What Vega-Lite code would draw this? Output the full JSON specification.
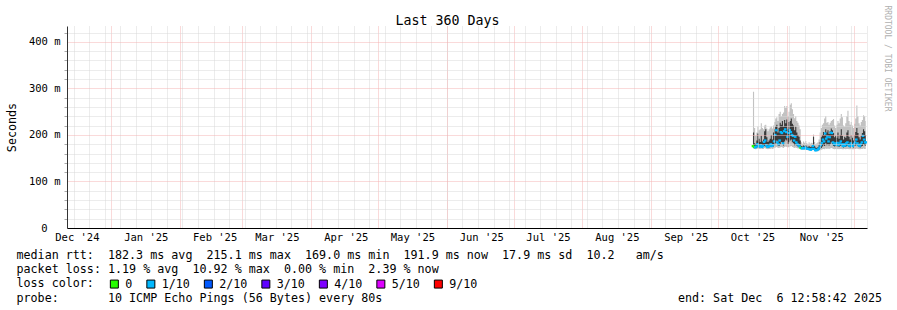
{
  "$schema": "https://vega.github.io/schema/vega-lite/v6.json",
  "width": 800,
  "height": 202,
  "autosize": {"type": "none"},
  "padding": {"left": 67, "top": 26, "right": 30, "bottom": 82},
  "background": "#ffffff",
  "view": {"stroke": null},
  "title": {"text": "Last 360 Days", "font": "DejaVu Sans Mono", "fontSize": 13.3, "fontWeight": "normal", "color": "#000000", "anchor": "middle", "dx": -19.5, "baseline": "alphabetic", "offset": -33},
  "data": {"values": [
    {"t": "2025-10-16T18:00:00Z", "mn": 171, "lo": 174, "hi": 205, "mx": 293, "md": 176, "loss": "0"},
    {"t": "2025-10-17T06:00:00Z", "mn": 170, "lo": 173, "hi": 182, "mx": 215, "md": 174, "loss": "0"},
    {"t": "2025-10-17T18:00:00Z", "mn": 169, "lo": 172, "hi": 180, "mx": 198, "md": 173, "loss": "1/10"},
    {"t": "2025-10-18T06:00:00Z", "mn": 170, "lo": 173, "hi": 188, "mx": 205, "md": 175, "loss": "1/10"},
    {"t": "2025-10-18T18:00:00Z", "mn": 171, "lo": 175, "hi": 203, "mx": 218, "md": 180, "loss": "1/10"},
    {"t": "2025-10-19T06:00:00Z", "mn": 170, "lo": 173, "hi": 192, "mx": 210, "md": 176, "loss": "1/10"},
    {"t": "2025-10-19T18:00:00Z", "mn": 170, "lo": 174, "hi": 185, "mx": 212, "md": 175, "loss": "1/10"},
    {"t": "2025-10-20T06:00:00Z", "mn": 171, "lo": 175, "hi": 198, "mx": 225, "md": 178, "loss": "1/10"},
    {"t": "2025-10-20T18:00:00Z", "mn": 170, "lo": 173, "hi": 186, "mx": 215, "md": 174, "loss": "1/10"},
    {"t": "2025-10-21T06:00:00Z", "mn": 170, "lo": 174, "hi": 190, "mx": 212, "md": 176, "loss": "1/10"},
    {"t": "2025-10-21T18:00:00Z", "mn": 172, "lo": 176, "hi": 208, "mx": 220, "md": 185, "loss": "1/10"},
    {"t": "2025-10-22T06:00:00Z", "mn": 171, "lo": 175, "hi": 212, "mx": 222, "md": 188, "loss": "1/10"},
    {"t": "2025-10-22T18:00:00Z", "mn": 170, "lo": 174, "hi": 195, "mx": 214, "md": 178, "loss": "1/10"},
    {"t": "2025-10-23T06:00:00Z", "mn": 169, "lo": 172, "hi": 185, "mx": 208, "md": 174, "loss": "1/10"},
    {"t": "2025-10-23T18:00:00Z", "mn": 170, "lo": 173, "hi": 188, "mx": 212, "md": 175, "loss": "1/10"},
    {"t": "2025-10-24T06:00:00Z", "mn": 170, "lo": 174, "hi": 192, "mx": 216, "md": 176, "loss": "1/10"},
    {"t": "2025-10-24T18:00:00Z", "mn": 171, "lo": 176, "hi": 200, "mx": 218, "md": 180, "loss": "1/10"},
    {"t": "2025-10-25T06:00:00Z", "mn": 170, "lo": 174, "hi": 190, "mx": 214, "md": 176, "loss": "1/10"},
    {"t": "2025-10-25T18:00:00Z", "mn": 171, "lo": 175, "hi": 205, "mx": 220, "md": 178, "loss": "1/10"},
    {"t": "2025-10-26T06:00:00Z", "mn": 172, "lo": 178, "hi": 212, "mx": 228, "md": 186, "loss": "1/10"},
    {"t": "2025-10-26T18:00:00Z", "mn": 173, "lo": 182, "hi": 218, "mx": 235, "md": 200, "loss": "1/10"},
    {"t": "2025-10-27T06:00:00Z", "mn": 174, "lo": 188, "hi": 222, "mx": 238, "md": 210, "loss": "1/10"},
    {"t": "2025-10-27T18:00:00Z", "mn": 172, "lo": 178, "hi": 205, "mx": 230, "md": 184, "loss": "1/10"},
    {"t": "2025-10-28T06:00:00Z", "mn": 172, "lo": 176, "hi": 215, "mx": 245, "md": 180, "loss": "1/10"},
    {"t": "2025-10-28T18:00:00Z", "mn": 173, "lo": 180, "hi": 226, "mx": 250, "md": 188, "loss": "1/10"},
    {"t": "2025-10-29T06:00:00Z", "mn": 174, "lo": 185, "hi": 222, "mx": 240, "md": 206, "loss": "1/10"},
    {"t": "2025-10-29T18:00:00Z", "mn": 173, "lo": 182, "hi": 230, "mx": 245, "md": 204, "loss": "1/10"},
    {"t": "2025-10-30T06:00:00Z", "mn": 172, "lo": 177, "hi": 218, "mx": 248, "md": 182, "loss": "1/10"},
    {"t": "2025-10-30T18:00:00Z", "mn": 174, "lo": 186, "hi": 232, "mx": 262, "md": 208, "loss": "1/10"},
    {"t": "2025-10-31T06:00:00Z", "mn": 175, "lo": 190, "hi": 225, "mx": 258, "md": 212, "loss": "1/10"},
    {"t": "2025-10-31T18:00:00Z", "mn": 174, "lo": 188, "hi": 233, "mx": 262, "md": 206, "loss": "1/10"},
    {"t": "2025-11-01T06:00:00Z", "mn": 173, "lo": 180, "hi": 212, "mx": 240, "md": 196, "loss": "1/10"},
    {"t": "2025-11-01T18:00:00Z", "mn": 174, "lo": 184, "hi": 228, "mx": 250, "md": 204, "loss": "1/10"},
    {"t": "2025-11-02T06:00:00Z", "mn": 175, "lo": 188, "hi": 230, "mx": 265, "md": 210, "loss": "1/10"},
    {"t": "2025-11-02T18:00:00Z", "mn": 176, "lo": 190, "hi": 235, "mx": 268, "md": 206, "loss": "1/10"},
    {"t": "2025-11-03T06:00:00Z", "mn": 174, "lo": 184, "hi": 224, "mx": 255, "md": 200, "loss": "1/10"},
    {"t": "2025-11-03T18:00:00Z", "mn": 173, "lo": 182, "hi": 220, "mx": 245, "md": 198, "loss": "1/10"},
    {"t": "2025-11-04T06:00:00Z", "mn": 172, "lo": 178, "hi": 210, "mx": 236, "md": 188, "loss": "1/10"},
    {"t": "2025-11-04T18:00:00Z", "mn": 173, "lo": 180, "hi": 218, "mx": 240, "md": 196, "loss": "1/10"},
    {"t": "2025-11-05T06:00:00Z", "mn": 172, "lo": 177, "hi": 205, "mx": 230, "md": 184, "loss": "1/10"},
    {"t": "2025-11-05T18:00:00Z", "mn": 171, "lo": 175, "hi": 200, "mx": 226, "md": 180, "loss": "1/10"},
    {"t": "2025-11-06T06:00:00Z", "mn": 171, "lo": 175, "hi": 196, "mx": 220, "md": 178, "loss": "1/10"},
    {"t": "2025-11-06T18:00:00Z", "mn": 170, "lo": 173, "hi": 188, "mx": 212, "md": 175, "loss": "1/10"},
    {"t": "2025-11-07T06:00:00Z", "mn": 168, "lo": 170, "hi": 176, "mx": 184, "md": 172, "loss": "0"},
    {"t": "2025-11-07T18:00:00Z", "mn": 168, "lo": 170, "hi": 175, "mx": 181, "md": 171, "loss": "1/10"},
    {"t": "2025-11-08T06:00:00Z", "mn": 168, "lo": 170, "hi": 177, "mx": 186, "md": 172, "loss": "1/10"},
    {"t": "2025-11-08T18:00:00Z", "mn": 168, "lo": 170, "hi": 176, "mx": 183, "md": 171, "loss": "1/10"},
    {"t": "2025-11-09T06:00:00Z", "mn": 168, "lo": 171, "hi": 178, "mx": 187, "md": 173, "loss": "1/10"},
    {"t": "2025-11-09T18:00:00Z", "mn": 168, "lo": 170, "hi": 175, "mx": 182, "md": 171, "loss": "1/10"},
    {"t": "2025-11-10T06:00:00Z", "mn": 167, "lo": 169, "hi": 174, "mx": 180, "md": 170, "loss": "1/10"},
    {"t": "2025-11-10T18:00:00Z", "mn": 167, "lo": 169, "hi": 176, "mx": 184, "md": 170, "loss": "1/10"},
    {"t": "2025-11-11T06:00:00Z", "mn": 166, "lo": 168, "hi": 174, "mx": 181, "md": 169, "loss": "1/10"},
    {"t": "2025-11-11T18:00:00Z", "mn": 166, "lo": 168, "hi": 175, "mx": 183, "md": 168, "loss": "1/10"},
    {"t": "2025-11-12T06:00:00Z", "mn": 167, "lo": 169, "hi": 175, "mx": 182, "md": 170, "loss": "1/10"},
    {"t": "2025-11-12T18:00:00Z", "mn": 168, "lo": 172, "hi": 196, "mx": 201, "md": 176, "loss": "1/10"},
    {"t": "2025-11-13T06:00:00Z", "mn": 167, "lo": 169, "hi": 176, "mx": 185, "md": 170, "loss": "1/10"},
    {"t": "2025-11-13T18:00:00Z", "mn": 165, "lo": 167, "hi": 173, "mx": 180, "md": 167, "loss": "1/10"},
    {"t": "2025-11-14T06:00:00Z", "mn": 165, "lo": 166, "hi": 172, "mx": 182, "md": 167, "loss": "1/10"},
    {"t": "2025-11-14T18:00:00Z", "mn": 165, "lo": 167, "hi": 174, "mx": 184, "md": 168, "loss": "1/10"},
    {"t": "2025-11-15T06:00:00Z", "mn": 166, "lo": 168, "hi": 178, "mx": 190, "md": 170, "loss": "1/10"},
    {"t": "2025-11-15T18:00:00Z", "mn": 167, "lo": 170, "hi": 185, "mx": 205, "md": 173, "loss": "1/10"},
    {"t": "2025-11-16T06:00:00Z", "mn": 168, "lo": 172, "hi": 195, "mx": 215, "md": 178, "loss": "1/10"},
    {"t": "2025-11-16T18:00:00Z", "mn": 169, "lo": 175, "hi": 200, "mx": 222, "md": 183, "loss": "1/10"},
    {"t": "2025-11-17T06:00:00Z", "mn": 170, "lo": 178, "hi": 206, "mx": 225, "md": 190, "loss": "1/10"},
    {"t": "2025-11-17T18:00:00Z", "mn": 169, "lo": 176, "hi": 200, "mx": 235, "md": 186, "loss": "1/10"},
    {"t": "2025-11-18T06:00:00Z", "mn": 171, "lo": 182, "hi": 212, "mx": 240, "md": 203, "loss": "1/10"},
    {"t": "2025-11-18T18:00:00Z", "mn": 170, "lo": 178, "hi": 205, "mx": 226, "md": 192, "loss": "1/10"},
    {"t": "2025-11-19T06:00:00Z", "mn": 171, "lo": 180, "hi": 210, "mx": 228, "md": 196, "loss": "1/10"},
    {"t": "2025-11-19T18:00:00Z", "mn": 170, "lo": 177, "hi": 202, "mx": 222, "md": 186, "loss": "1/10"},
    {"t": "2025-11-20T06:00:00Z", "mn": 171, "lo": 180, "hi": 208, "mx": 226, "md": 195, "loss": "1/10"},
    {"t": "2025-11-20T18:00:00Z", "mn": 172, "lo": 184, "hi": 214, "mx": 230, "md": 205, "loss": "1/10"},
    {"t": "2025-11-21T06:00:00Z", "mn": 171, "lo": 180, "hi": 210, "mx": 232, "md": 204, "loss": "1/10"},
    {"t": "2025-11-21T18:00:00Z", "mn": 170, "lo": 176, "hi": 204, "mx": 234, "md": 184, "loss": "1/10"},
    {"t": "2025-11-22T06:00:00Z", "mn": 169, "lo": 175, "hi": 195, "mx": 220, "md": 180, "loss": "1/10"},
    {"t": "2025-11-22T18:00:00Z", "mn": 170, "lo": 176, "hi": 198, "mx": 215, "md": 182, "loss": "1/10"},
    {"t": "2025-11-23T06:00:00Z", "mn": 169, "lo": 175, "hi": 194, "mx": 222, "md": 179, "loss": "1/10"},
    {"t": "2025-11-23T18:00:00Z", "mn": 170, "lo": 177, "hi": 205, "mx": 230, "md": 183, "loss": "1/10"},
    {"t": "2025-11-24T06:00:00Z", "mn": 169, "lo": 174, "hi": 192, "mx": 225, "md": 178, "loss": "1/10"},
    {"t": "2025-11-24T18:00:00Z", "mn": 170, "lo": 176, "hi": 200, "mx": 235, "md": 182, "loss": "1/10"},
    {"t": "2025-11-25T06:00:00Z", "mn": 170, "lo": 178, "hi": 212, "mx": 245, "md": 186, "loss": "1/10"},
    {"t": "2025-11-25T18:00:00Z", "mn": 169, "lo": 175, "hi": 198, "mx": 238, "md": 180, "loss": "1/10"},
    {"t": "2025-11-26T06:00:00Z", "mn": 169, "lo": 173, "hi": 190, "mx": 220, "md": 176, "loss": "1/10"},
    {"t": "2025-11-26T18:00:00Z", "mn": 170, "lo": 175, "hi": 196, "mx": 218, "md": 180, "loss": "1/10"},
    {"t": "2025-11-27T06:00:00Z", "mn": 169, "lo": 174, "hi": 194, "mx": 225, "md": 177, "loss": "1/10"},
    {"t": "2025-11-27T18:00:00Z", "mn": 170, "lo": 176, "hi": 205, "mx": 240, "md": 182, "loss": "1/10"},
    {"t": "2025-11-28T06:00:00Z", "mn": 170, "lo": 177, "hi": 210, "mx": 252, "md": 184, "loss": "1/10"},
    {"t": "2025-11-28T18:00:00Z", "mn": 169, "lo": 174, "hi": 196, "mx": 230, "md": 178, "loss": "1/10"},
    {"t": "2025-11-29T06:00:00Z", "mn": 169, "lo": 173, "hi": 190, "mx": 222, "md": 176, "loss": "1/10"},
    {"t": "2025-11-29T18:00:00Z", "mn": 170, "lo": 176, "hi": 200, "mx": 228, "md": 182, "loss": "1/10"},
    {"t": "2025-11-30T06:00:00Z", "mn": 169, "lo": 174, "hi": 194, "mx": 220, "md": 178, "loss": "1/10"},
    {"t": "2025-11-30T18:00:00Z", "mn": 169, "lo": 173, "hi": 188, "mx": 215, "md": 176, "loss": "1/10"},
    {"t": "2025-12-01T06:00:00Z", "mn": 170, "lo": 176, "hi": 200, "mx": 224, "md": 181, "loss": "1/10"},
    {"t": "2025-12-01T18:00:00Z", "mn": 170, "lo": 177, "hi": 206, "mx": 235, "md": 184, "loss": "1/10"},
    {"t": "2025-12-02T06:00:00Z", "mn": 171, "lo": 180, "hi": 215, "mx": 263, "md": 190, "loss": "1/10"},
    {"t": "2025-12-02T18:00:00Z", "mn": 170, "lo": 176, "hi": 204, "mx": 240, "md": 182, "loss": "1/10"},
    {"t": "2025-12-03T06:00:00Z", "mn": 169, "lo": 174, "hi": 195, "mx": 225, "md": 178, "loss": "1/10"},
    {"t": "2025-12-03T18:00:00Z", "mn": 169, "lo": 173, "hi": 190, "mx": 220, "md": 176, "loss": "1/10"},
    {"t": "2025-12-04T06:00:00Z", "mn": 170, "lo": 175, "hi": 198, "mx": 228, "md": 180, "loss": "1/10"},
    {"t": "2025-12-04T18:00:00Z", "mn": 170, "lo": 176, "hi": 204, "mx": 232, "md": 184, "loss": "1/10"},
    {"t": "2025-12-05T06:00:00Z", "mn": 171, "lo": 180, "hi": 212, "mx": 242, "md": 198, "loss": "1/10"},
    {"t": "2025-12-05T18:00:00Z", "mn": 170, "lo": 178, "hi": 208, "mx": 240, "md": 190, "loss": "1/10"},
    {"t": "2025-12-06T06:00:00Z", "mn": 170, "lo": 176, "hi": 200, "mx": 230, "md": 184, "loss": "1/10"},
    {"t": "2025-12-06T12:00:00Z", "mn": 170, "lo": 176, "hi": 200, "mx": 230, "md": 184, "loss": "1/10"}
  ]},
  "layer": [
    {
      "mark": {"type": "area", "interpolate": "step-after", "color": "#c2c2c2", "opacity": 1},
      "encoding": {
        "x": {"field": "t", "type": "temporal",
          "scale": {"type": "utc", "domain": [{"year": 2024, "month": 12, "date": 12, "hours": 1, "minutes": 30, "utc": true}, {"year": 2025, "month": 12, "date": 7, "hours": 1, "minutes": 30, "utc": true}]},
          "axis": {"orient": "bottom", "tickCount": {"interval": "week", "step": 1}, "grid": true, "gridColor": "#d9d9d9", "gridDash": [1, 1], "gridWidth": 1, "labels": false, "ticks": false, "domain": false, "title": null, "zindex": 1}},
        "y": {"field": "mn", "type": "quantitative",
          "scale": {"domain": [0, 434], "nice": false, "zero": false},
          "axis": {"orient": "left", "values": [20, 40, 60, 80, 120, 140, 160, 180, 220, 240, 260, 280, 320, 340, 360, 380, 420], "grid": true, "gridColor": "#d9d9d9", "gridDash": [1, 1], "labels": false, "ticks": true, "tickSize": 3, "tickColor": "#aaaaaa", "domain": false, "title": null, "zindex": 1}},
        "y2": {"field": "mx"}
      }
    },
    {
      "mark": {"type": "area", "interpolate": "step-after", "color": "#3a3a3a", "opacity": 1},
      "encoding": {
        "x": {"field": "t", "type": "temporal",
          "axis": {"orient": "bottom", "tickCount": {"interval": "month", "step": 1}, "grid": true, "gridColor": "#f5b4b4", "gridDash": [1, 1], "gridWidth": 1, "labels": false, "ticks": false, "domain": false, "title": null, "zindex": 1}},
        "y": {"field": "lo", "type": "quantitative",
          "axis": {"orient": "left", "values": [0, 100, 200, 300, 400], "grid": true, "gridColor": "#f5b4b4", "gridDash": [1, 1], "labels": true, "labelExpr": "datum.value == 0 ? '0' : datum.value + ' m'", "labelFont": "DejaVu Sans Mono", "labelFontSize": 10.5, "labelColor": "#000000", "labelPadding": {"condition": {"test": "datum.value == 0", "value": 20}, "value": 7}, "ticks": false, "domain": true, "domainColor": "#333333", "title": "Seconds", "titleFont": "DejaVu Sans Mono", "titleFontSize": 11.7, "titleFontWeight": "normal", "titleColor": "#000000", "titleAngle": 270, "titleX": -56, "titleY": 101, "titleAlign": "center", "titleBaseline": "middle", "zindex": 1}},
        "y2": {"field": "hi"}
      }
    },
    {
      "mark": {"type": "tick", "orient": "horizontal", "size": 2.6, "thickness": 2.2, "opacity": 1},
      "encoding": {
        "x": {"field": "t", "type": "temporal",
          "axis": {"orient": "bottom",
            "values": [
              {"year": 2024, "month": 12, "date": 16, "hours": 12, "utc": true},
              {"year": 2025, "month": 1, "date": 16, "hours": 12, "utc": true},
              {"year": 2025, "month": 2, "date": 16, "hours": 12, "utc": true},
              {"year": 2025, "month": 3, "date": 16, "hours": 12, "utc": true},
              {"year": 2025, "month": 4, "date": 16, "hours": 12, "utc": true},
              {"year": 2025, "month": 5, "date": 16, "hours": 12, "utc": true},
              {"year": 2025, "month": 6, "date": 16, "hours": 12, "utc": true},
              {"year": 2025, "month": 7, "date": 16, "hours": 12, "utc": true},
              {"year": 2025, "month": 8, "date": 16, "hours": 12, "utc": true},
              {"year": 2025, "month": 9, "date": 16, "hours": 12, "utc": true},
              {"year": 2025, "month": 10, "date": 16, "hours": 12, "utc": true},
              {"year": 2025, "month": 11, "date": 16, "hours": 12, "utc": true}
            ],
            "format": "%b '%y", "grid": false, "ticks": false, "domain": true, "domainColor": "#000000", "labelFont": "DejaVu Sans Mono", "labelFontSize": 10.5, "labelColor": "#000000", "labelPadding": 4, "labelBaseline": "top", "labelFlush": false, "labelOverlap": false, "labelBound": false,
            "title": [
              "median rtt:\u00a0\u00a0182.3 ms avg\u00a0\u00a0215.1 ms max\u00a0\u00a0169.0 ms min\u00a0\u00a0191.9 ms now\u00a0\u00a017.9 ms sd\u00a0\u00a010.2\u00a0\u00a0\u00a0am/s",
              "packet loss: 1.19 % avg\u00a0\u00a010.92 % max\u00a0\u00a00.00 % min\u00a0\u00a02.39 % now",
              "loss color:",
              "probe:\u00a0\u00a0\u00a0\u00a0\u00a0\u00a0\u00a010 ICMP Echo Pings (56 Bytes) every 80s\u00a0\u00a0\u00a0\u00a0\u00a0\u00a0\u00a0\u00a0\u00a0\u00a0\u00a0\u00a0\u00a0\u00a0\u00a0\u00a0\u00a0\u00a0\u00a0\u00a0\u00a0\u00a0\u00a0\u00a0\u00a0\u00a0\u00a0\u00a0\u00a0\u00a0\u00a0\u00a0\u00a0\u00a0\u00a0\u00a0\u00a0\u00a0\u00a0\u00a0\u00a0\u00a0end: Sat Dec\u00a0\u00a06 12:58:42 2025"
            ],
            "titleX": -51, "titleY": 30.3, "titleAlign": "left", "titleBaseline": "alphabetic", "titleFont": "DejaVu Sans Mono", "titleFontSize": 11.7, "titleFontWeight": "normal", "titleColor": "#000000", "titleLineHeight": 14.25, "zindex": 1}},
        "y": {"field": "md", "type": "quantitative",
          "axis": {"orient": "right", "grid": false, "labels": false, "ticks": false, "domain": false, "title": "RRDTOOL / TOBI OETIKER", "titleAngle": 90, "titleX": 19, "titleY": -21, "titleAlign": "left", "titleBaseline": "middle", "titleFont": "DejaVu Sans Mono", "titleFontSize": 8, "titleFontWeight": "normal", "titleColor": "#b0b0b0"}},
        "color": {"field": "loss", "type": "nominal",
          "scale": {"domain": ["0", "1/10", "2/10", "3/10", "4/10", "5/10", "9/10"], "range": ["#26ff00", "#00b8ff", "#0059ff", "#5e00ff", "#7e00ff", "#dd00ff", "#ff0000"]},
          "legend": {"orient": "none", "legendX": 41.5, "legendY": 252, "direction": "horizontal", "title": null, "symbolType": "square", "symbolSize": 64, "symbolStrokeWidth": 1, "symbolStrokeColor": "#000000", "symbolOpacity": 1, "labelFont": "DejaVu Sans Mono", "labelFontSize": 11.7, "labelColor": "#000000", "labelOffset": 5, "columnPadding": 11.5, "padding": 0, "offset": 0,
            "encode": {"symbols": {"update": {"stroke": {"value": "#000000"}, "strokeWidth": {"value": 1}}}}}}
      }
    }
  ],
  "resolve": {"axis": {"x": "independent", "y": "independent"}}
}
